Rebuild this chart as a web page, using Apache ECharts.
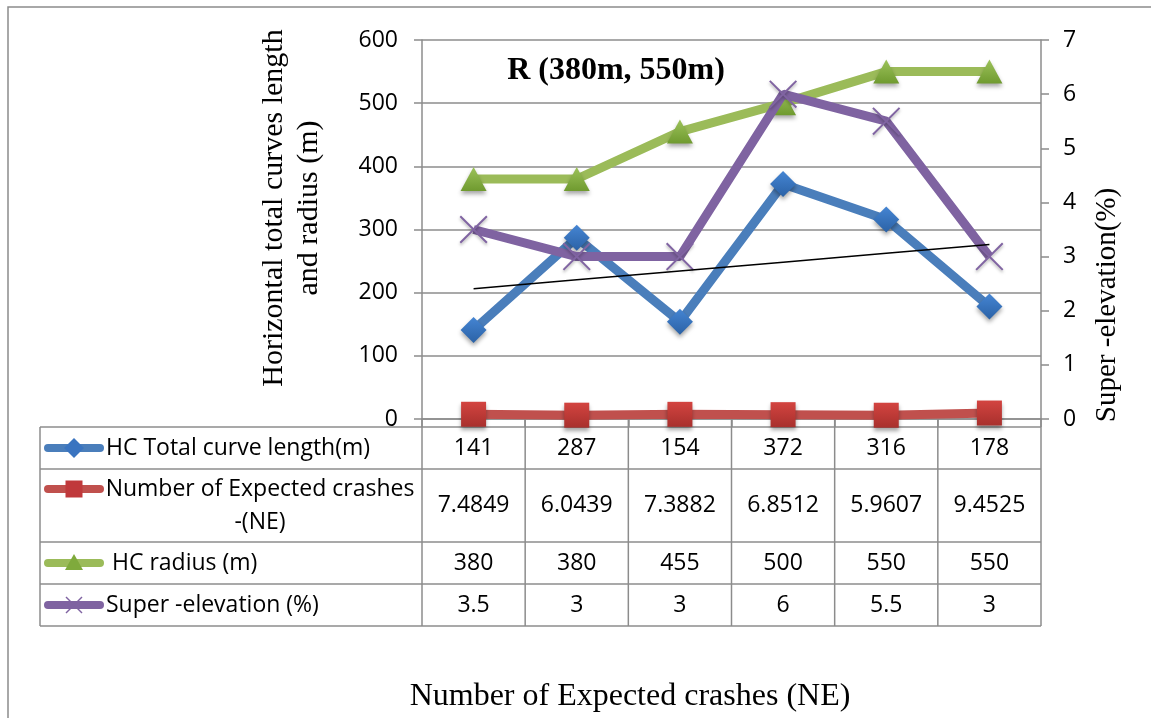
<!DOCTYPE html>
<html>
<head>
<meta charset="utf-8">
<script src="https://cdn.jsdelivr.net/npm/echarts@6/dist/echarts.min.js"></script>
<style>
html,body{margin:0;padding:0;background:#fff;}
#c{width:1151px;height:718px;}
</style>
</head>
<body>
<div id="c"></div>
<script>
// ---- data ----
const categories = ['1', '2', '3', '4', '5', '6'];
const hcLength = [141, 287, 154, 372, 316, 178];
const expectedCrashes = [7.4849, 6.0439, 7.3882, 6.8512, 5.9607, 9.4525];
const hcRadius = [380, 380, 455, 500, 550, 550];
const superElevation = [3.5, 3, 3, 6, 5.5, 3];
const leftTicks = [0, 100, 200, 300, 400, 500, 600];
const rightTicks = [0, 1, 2, 3, 4, 5, 6, 7];
const seriesNames = ['HC Total curve length(m)', 'Number of Expected crashes -(NE)', ' HC radius (m)', 'Super -elevation (%)'];
const tableLabels = [
  ['141', '287', '154', '372', '316', '178'],
  ['7.4849', '6.0439', '7.3882', '6.8512', '5.9607', '9.4525'],
  ['380', '380', '455', '500', '550', '550'],
  ['3.5', '3', '3', '6', '5.5', '3']
];
const chartTitle = 'R (380m, 550m)';
const leftTitle = 'Horizontal total curves length\nand radius (m)';
const rightTitle = 'Super -elevation(%)';
const bottomTitle = 'Number of Expected crashes (NE)';

// linear trendline of HC total curve length (as the spreadsheet's trendline)
function linearTrend(vals) {
  const n = vals.length;
  let sx = 0, sy = 0, sxy = 0, sxx = 0;
  vals.forEach((v, i) => { const x = i + 1; sx += x; sy += v; sxy += x * v; sxx += x * x; });
  const b = (n * sxy - sx * sy) / (n * sxx - sx * sx);
  const a = (sy - b * sx) / n;
  return vals.map((v, i) => a + b * (i + 1));
}
const hcTrend = linearTrend(hcLength);

const GRAY = '#8c8c8c';
const SANS = '"Open Sans", sans-serif';
const SERIF = '"Liberation Serif", "Times New Roman", serif';
const COLORS = { blue: '#4a7ebb', red: '#c0504d', green: '#9bbb59', purple: '#7f63a1' };
const X_PATH = 'path://M0,5 L5,0 L50,45 L95,0 L100,5 L55,50 L100,95 L95,100 L50,55 L5,100 L0,95 L45,50 Z';

function grad(top, bottom) {
  return new echarts.graphic.LinearGradient(0, 0, 0, 1, [{ offset: 0, color: top }, { offset: 1, color: bottom }]);
}
const shadow = { shadowBlur: 4, shadowColor: 'rgba(0,0,0,0.35)', shadowOffsetY: 3 };

const chart = echarts.init(document.getElementById('c'), null, { renderer: 'canvas' });

const option = {
  animation: false,
  backgroundColor: '#fff',
  grid: { left: 422, right: 110, top: 40, bottom: 299 },
  xAxis: {
    type: 'category',
    data: categories,
    boundaryGap: true,
    axisLine: { show: true, lineStyle: { color: GRAY, width: 1.5 } },
    axisTick: { show: true, length: 8, alignWithLabel: false, lineStyle: { color: GRAY, width: 1.5 } },
    axisLabel: { show: false },
    splitLine: { show: false }
  },
  yAxis: [
    {
      type: 'value', min: leftTicks[0], max: leftTicks[leftTicks.length - 1], interval: 100,
      axisLine: { show: true, lineStyle: { color: GRAY, width: 1.5 } },
      axisTick: { show: true, length: 8, lineStyle: { color: GRAY, width: 1.5 } },
      axisLabel: { color: '#000', fontFamily: SANS, fontSize: 23, margin: 24 },
      splitLine: { show: true, lineStyle: { color: GRAY, width: 1.5 } }
    },
    {
      type: 'value', min: rightTicks[0], max: rightTicks[rightTicks.length - 1], interval: 1,
      position: 'right',
      axisLine: { show: true, lineStyle: { color: GRAY, width: 1.5 } },
      axisTick: { show: true, length: 8, lineStyle: { color: GRAY, width: 1.5 } },
      axisLabel: { color: '#000', fontFamily: SANS, fontSize: 23, margin: 22 },
      splitLine: { show: false }
    }
  ],
  series: [
    {
      name: seriesNames[0], type: 'line', yAxisIndex: 0, data: hcLength,
      lineStyle: { color: COLORS.blue, width: 9 },
      symbol: 'diamond', symbolSize: 26,
      itemStyle: Object.assign({ color: grad('#4585d3', '#2b62a6') }, shadow),
      z: 3
    },
    {
      name: seriesNames[1], type: 'line', yAxisIndex: 0, data: expectedCrashes,
      lineStyle: { color: COLORS.red, width: 9 },
      symbol: 'rect', symbolSize: 25,
      itemStyle: Object.assign({ color: grad('#d34440', '#a8302d') }, shadow),
      z: 3
    },
    {
      name: seriesNames[2], type: 'line', yAxisIndex: 0, data: hcRadius,
      lineStyle: { color: COLORS.green, width: 9 },
      symbol: 'triangle', symbolSize: [26, 24],
      itemStyle: Object.assign({ color: grad('#9cc25a', '#6f9a2f') }, shadow),
      z: 3
    },
    {
      name: seriesNames[3], type: 'line', yAxisIndex: 1, data: superElevation,
      lineStyle: { color: COLORS.purple, width: 9 },
      symbol: X_PATH, symbolSize: 28,
      itemStyle: { color: '#8064a2', shadowBlur: 3, shadowColor: 'rgba(0,0,0,0.3)', shadowOffsetY: 2 },
      z: 4
    },
    {
      name: 'trend', type: 'line', yAxisIndex: 0, data: hcTrend,
      lineStyle: { color: '#000', width: 1.5 },
      symbol: 'none', z: 5, silent: true
    }
  ]
};
chart.setOption(option);

// ---- data table, titles, frame (positions derived from the axes) ----
function buildGraphics() {
  const cx = categories.map((c, i) => chart.convertToPixel({ xAxisIndex: 0 }, i));
  const colW = cx[1] - cx[0];
  const y0 = chart.convertToPixel({ yAxisIndex: 0 }, 0);
  const yTop = chart.convertToPixel({ yAxisIndex: 0 }, leftTicks[leftTicks.length - 1]);
  const tableTop = y0 + 8;
  const rowH = [42, 73, 42, 42];
  const rowY = [tableTop];
  rowH.forEach((h, i) => rowY.push(rowY[i] + h));
  const tableLeft = 40;
  const colLeft = cx[0] - colW / 2;
  const tableRight = cx[cx.length - 1] + colW / 2;
  const g = [];
  const lineStyle = { stroke: GRAY, lineWidth: 1.5 };

  // outer frame
  g.push({ type: 'rect', shape: { x: 8, y: 7, width: 1300, height: 900 }, style: { fill: 'none', stroke: GRAY, lineWidth: 1.5 }, silent: true });

  // table horizontal lines
  rowY.forEach(y => g.push({ type: 'line', shape: { x1: tableLeft, y1: y, x2: tableRight, y2: y }, style: lineStyle, silent: true }));
  // table vertical lines
  g.push({ type: 'line', shape: { x1: tableLeft, y1: rowY[0], x2: tableLeft, y2: rowY[4] }, style: lineStyle });
  for (let i = 0; i <= cx.length; i++) {
    const x = colLeft + i * colW;
    g.push({ type: 'line', shape: { x1: x, y1: y0, x2: x, y2: rowY[4] }, style: lineStyle });
  }

  // cell values
  tableLabels.forEach((row, r) => {
    const yc = (rowY[r] + rowY[r + 1]) / 2;
    row.forEach((t, i) => {
      g.push({ type: 'text', x: cx[i], y: yc, style: { text: t, fill: '#000', font: '23px ' + SANS, textAlign: 'center', textVerticalAlign: 'middle' } });
    });
  });

  // legend keys
  const keyY = [(rowY[0] + rowY[1]) / 2, rowY[1] + 20, (rowY[2] + rowY[3]) / 2, (rowY[3] + rowY[4]) / 2];
  const keyColors = [COLORS.blue, COLORS.red, COLORS.green, COLORS.purple];
  const kx1 = 48, kx2 = 100, km = 74;
  keyY.forEach((y, r) => {
    g.push({ type: 'line', shape: { x1: kx1, y1: y, x2: kx2, y2: y }, style: { stroke: keyColors[r], lineWidth: 8, lineCap: 'round' } });
  });
  // blue diamond
  g.push({ type: 'polygon', shape: { points: [[km, keyY[0] - 10], [km + 10, keyY[0]], [km, keyY[0] + 10], [km - 10, keyY[0]]] }, style: { fill: '#3a74c0' } });
  // red square
  g.push({ type: 'rect', shape: { x: km - 8.5, y: keyY[1] - 8.5, width: 17, height: 17 }, style: { fill: '#c0393b' } });
  // green triangle
  g.push({ type: 'polygon', shape: { points: [[km, keyY[2] - 9], [km + 9, keyY[2] + 7], [km - 9, keyY[2] + 7]] }, style: { fill: '#7faa3c' } });
  // purple cross
  g.push({ type: 'line', shape: { x1: km - 8, y1: keyY[3] - 8, x2: km + 8, y2: keyY[3] + 8 }, style: { stroke: '#7f63a1', lineWidth: 1.5 } });
  g.push({ type: 'line', shape: { x1: km + 8, y1: keyY[3] - 8, x2: km - 8, y2: keyY[3] + 8 }, style: { stroke: '#7f63a1', lineWidth: 1.5 } });

  // row labels
  const lf = '23px ' + SANS;
  g.push({ type: 'text', x: 106, y: keyY[0], style: { text: seriesNames[0], fill: '#000', font: lf, textAlign: 'left', textVerticalAlign: 'middle' } });
  const parts = seriesNames[1].split(' -');
  g.push({ type: 'text', x: 260, y: rowY[1] + 20, style: { text: parts[0], fill: '#000', font: lf, textAlign: 'center', textVerticalAlign: 'middle' } });
  g.push({ type: 'text', x: 260, y: rowY[1] + 53, style: { text: '-' + parts[1], fill: '#000', font: lf, textAlign: 'center', textVerticalAlign: 'middle' } });
  g.push({ type: 'text', x: 106, y: keyY[2], style: { text: seriesNames[2], fill: '#000', font: lf, textAlign: 'left', textVerticalAlign: 'middle' } });
  g.push({ type: 'text', x: 106, y: keyY[3], style: { text: seriesNames[3], fill: '#000', font: lf, textAlign: 'left', textVerticalAlign: 'middle' } });

  // titles
  g.push({ type: 'text', x: 616, y: yTop + 31, style: { text: chartTitle, fill: '#000', font: 'bold 32px ' + SERIF, textAlign: 'center', textVerticalAlign: 'middle' } });
  g.push({ type: 'text', x: 292, y: 208, rotation: Math.PI / 2, style: { text: leftTitle, fill: '#000', font: '30px ' + SERIF, textAlign: 'center', textVerticalAlign: 'middle', lineHeight: 35 } });
  g.push({ type: 'text', x: 1107, y: 305, rotation: Math.PI / 2, style: { text: rightTitle, fill: '#000', font: '29px ' + SERIF, textAlign: 'center', textVerticalAlign: 'middle' } });
  g.push({ type: 'text', x: 630, y: 697, style: { text: bottomTitle, fill: '#000', font: '32px ' + SERIF, textAlign: 'center', textVerticalAlign: 'middle' } });

  chart.setOption({ graphic: g.map(e => Object.assign({ silent: true }, e)) });
}
buildGraphics();
</script>
</body>
</html>
